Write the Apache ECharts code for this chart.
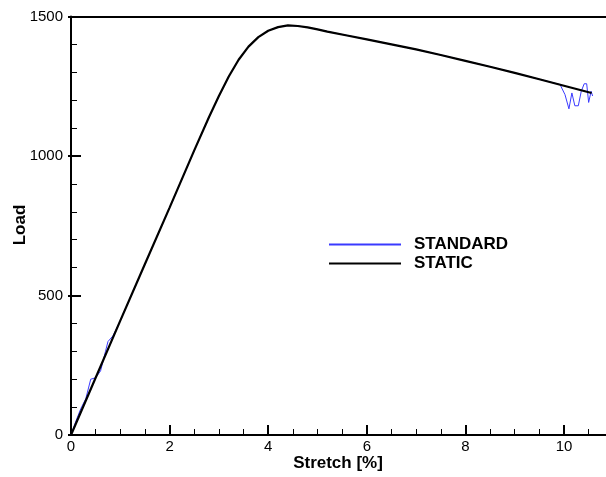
<!DOCTYPE html>
<html>
<head>
<meta charset="utf-8">
<script src="https://cdn.jsdelivr.net/npm/echarts@6/dist/echarts.min.js"></script>
<style>html,body{margin:0;padding:0;background:#fff}#c{width:606px;height:477px}</style>
</head>
<body>
<div id="c"></div>
<script>
// STATIC series (black)
var staticX = [0, 0.5, 1, 1.5, 2, 2.5, 2.8, 3.0, 3.2, 3.4, 3.6, 3.8, 4.0, 4.2, 4.4, 4.6, 4.8, 5.0, 5.2, 5.6, 6.0, 6.5, 7.0, 7.5, 8.0, 8.5, 9.0, 9.5, 10.0, 10.56];
var staticY = [0, 205, 410, 613, 815, 1020, 1140, 1215, 1285, 1345, 1392, 1426, 1449, 1462, 1468, 1466, 1461, 1454, 1446, 1432, 1418, 1400, 1382, 1362, 1341, 1320, 1298, 1275, 1252, 1226];
// STANDARD series (blue)
var standardX = [0, 0.1, 0.2, 0.3, 0.4, 0.5, 0.6, 0.7, 0.75, 0.85, 1, 1.5, 2, 2.5, 2.8, 3.0, 3.2, 3.4, 3.6, 3.8, 4.0, 4.2, 4.4, 4.6, 4.8, 5.0, 5.2, 5.6, 6.0, 6.5, 7.0, 7.5, 8.0, 8.5, 9.0, 9.5, 9.92, 10.02, 10.1, 10.16, 10.22, 10.29, 10.35, 10.41, 10.46, 10.5, 10.55, 10.58];
var standardY = [0, 50, 95, 130, 200, 205, 230, 300, 335, 355, 410, 613, 815, 1020, 1140, 1215, 1285, 1345, 1392, 1426, 1449, 1462, 1468, 1466, 1461, 1454, 1446, 1432, 1418, 1400, 1382, 1362, 1341, 1320, 1298, 1275, 1256, 1220, 1169, 1226, 1180, 1180, 1232, 1259, 1259, 1192, 1232, 1215];
var seriesNames = ['STANDARD', 'STATIC'];
var xTitle = 'Stretch [%]';
var yTitle = 'Load';

function pairs(xs, ys) { return xs.map(function (x, i) { return [x, ys[i]]; }); }
function plain(v) { return String(v); }

var FONT = 'Liberation Sans, Arial, sans-serif';
var chart = echarts.init(document.getElementById('c'), null, { renderer: 'canvas' });
chart.setOption({
  animation: false,
  backgroundColor: '#ffffff',
  grid: [
    { left: 71, width: 591.6, top: 16.5, height: 418.5, containLabel: false, outerBoundsMode: 'none' },
    { left: 71, width: 535, top: 16.5, height: 418.5, containLabel: false, outerBoundsMode: 'none' }
  ],
  xAxis: [{
    type: 'value', gridIndex: 0, position: 'bottom', min: 0, max: 12, interval: 2,
    axisLine: { show: true, onZero: false, lineStyle: { color: '#000', width: 2 } },
    axisTick: { show: true, inside: true, length: 10, lineStyle: { color: '#000', width: 2 } },
    minorTick: { show: true, splitNumber: 4, length: 6, lineStyle: { color: '#000', width: 1 } },
    splitLine: { show: false },
    axisLabel: { color: '#000', fontSize: 15, fontFamily: FONT, margin: 4, formatter: plain }
  }, {
    type: 'value', gridIndex: 0, position: 'top', min: 0, max: 12, interval: 2,
    axisLine: { show: true, onZero: false, lineStyle: { color: '#000', width: 2 } },
    axisTick: { show: false }, axisLabel: { show: false }, splitLine: { show: false }
  }, {
    type: 'value', gridIndex: 1, show: false, min: 0, max: 12
  }],
  yAxis: [{
    type: 'value', gridIndex: 0, position: 'left', min: 0, max: 1500, interval: 500,
    axisLine: { show: true, onZero: false, lineStyle: { color: '#000', width: 2 } },
    axisTick: { show: true, inside: true, length: 10, lineStyle: { color: '#000', width: 2 } },
    minorTick: { show: true, splitNumber: 5, length: 6, lineStyle: { color: '#000', width: 1 } },
    splitLine: { show: false },
    axisLabel: { color: '#000', fontSize: 15, fontFamily: FONT, margin: 8, formatter: plain }
  }, {
    type: 'value', gridIndex: 1, position: 'right', min: 0, max: 1500, interval: 500,
    axisLine: { show: false },
    axisTick: { show: true, inside: true, length: 3, lineStyle: { color: '#000', width: 2 } },
    axisLabel: { show: false }, splitLine: { show: false }
  }],
  legend: {
    orient: 'vertical', left: 328, top: 236, padding: 0,
    itemWidth: 72, itemHeight: 14, itemGap: 2,
    data: seriesNames,
    itemStyle: { opacity: 0 },
    textStyle: { color: '#000', fontSize: 17, fontWeight: 'bold', fontFamily: FONT, lineHeight: 14, padding: [0, 0, 0, 8] }
  },
  graphic: [
    { type: 'text', x: 338, y: 463, style: { text: xTitle, fill: '#000', font: 'bold 17px ' + FONT, textAlign: 'center', textVerticalAlign: 'middle' } },
    { type: 'text', rotation: Math.PI / 2, x: 20, y: 225, style: { text: yTitle, fill: '#000', font: 'bold 17px ' + FONT, textAlign: 'center', textVerticalAlign: 'middle' } }
  ],
  series: [{
    name: seriesNames[0], type: 'line', symbol: 'none', xAxisIndex: 0, yAxisIndex: 0,
    data: pairs(standardX, standardY),
    lineStyle: { color: '#3a3aff', width: 1 }, itemStyle: { color: '#3a3aff' }, z: 2
  }, {
    name: seriesNames[1], type: 'line', symbol: 'none', xAxisIndex: 0, yAxisIndex: 0,
    data: pairs(staticX, staticY),
    lineStyle: { color: '#000', width: 2.2 }, itemStyle: { color: '#000' }, z: 3
  }]
});
</script>
</body>
</html>
